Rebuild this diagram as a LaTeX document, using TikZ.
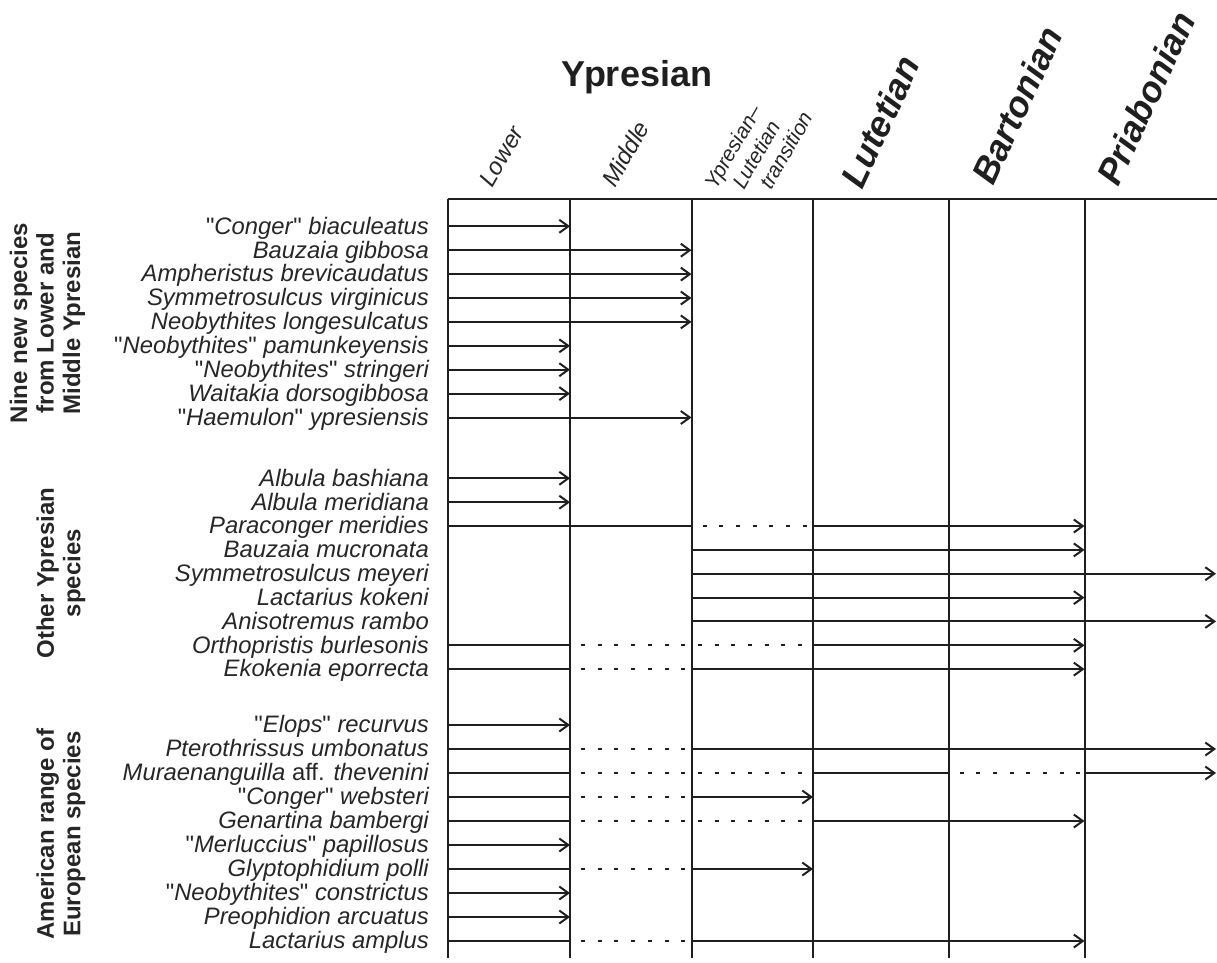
\documentclass[tikz,border=0pt]{standalone}
\usepackage{fontspec}
\setmainfont{Liberation Sans}[Ligatures=TeXOff]
\usetikzlibrary{arrows.meta}
\newcommand\uq{\textup{"}}
\begin{document}
\begin{tikzpicture}[x=1pt,y=-1pt,
  ln/.style={line width=2pt, draw=black!88},
  arr/.style={ln, -{Straight Barb[length=9pt,width=13pt]}},
  dotln/.style={ln, dash pattern=on 4pt off 12.7pt, dash phase=5.7pt},
  sp/.style={font=\fontsize{23.8}{26}\selectfont\itshape, text=black!85, anchor=base east, inner sep=0pt},
  grp/.style={font=\fontsize{24}{26.5}\selectfont\bfseries, text=black!85, rotate=90, align=center, inner sep=0pt},
  sub/.style={font=\fontsize{24}{24}\selectfont\itshape, text=black!85, rotate=60, anchor=base west, inner sep=0pt},
  subsm/.style={font=\fontsize{21}{22}\selectfont\itshape, text=black!85, rotate=60, anchor=base west, inner sep=0pt},
  stage/.style={font=\fontsize{36}{40}\selectfont\bfseries\itshape, text=black!88, rotate=65, anchor=base west, inner sep=0pt}]
\useasboundingbox (0,0) rectangle (1217,962);

% columns
\coordinate (c0) at (447.5,199);
\coordinate (c1) at (570,199);
\coordinate (c2) at (691.5,199);
\coordinate (c3) at (813,199);
\coordinate (c4) at (948.5,199);
\coordinate (c5) at (1084.5,199);
\coordinate (c6) at (1216,199);
\coordinate (cr) at (1217,199);
\foreach \i in {0,...,5} { \coordinate (e\i) at ([yshift=-759pt]c\i); \draw[ln] (c\i) -- (e\i); }
\draw[ln] (c0) -- (cr);

% header
\node[font=\fontsize{36}{40}\selectfont\bfseries, text=black!88, anchor=base, inner sep=0pt] (ypr) at (637,86) {Ypresian};
\node[sub] (lower) at (492,189) {Lower};
\node[sub] (middle) at (615,189) {Middle};
\node[subsm] (tr1) at (716,191) {Ypresian–};
\node[subsm] (tr2) at (744,191) {Lutetian};
\node[subsm] (tr3) at (771,191) {transition};
\node[stage] (lut) at (862,191) {Lutetian};
\node[stage] (bar) at (993,187) {Bartonian};
\node[stage] (pri) at (1118,188) {Priabonian};

% group labels
\node[grp] (g1) at (47.5,323) {Nine new species\\from Lower and\\Middle Ypresian};
\node[grp] (g2) at (61,573) {Other Ypresian\\species};
\node[grp] (g3) at (61,834) {American range of\\European species};

% rows
\coordinate (a1) at (0,226.3);
\coordinate (a2) at (0,250.2);
\coordinate (a3) at (0,274.1);
\coordinate (a4) at (0,298.0);
\coordinate (a5) at (0,321.9);
\coordinate (a6) at (0,345.8);
\coordinate (a7) at (0,369.7);
\coordinate (a8) at (0,393.6);
\coordinate (a9) at (0,417.5);
\coordinate (b1) at (0,478.3);
\coordinate (b2) at (0,502.2);
\coordinate (b3) at (0,526.0);
\coordinate (b4) at (0,549.9);
\coordinate (b5) at (0,573.7);
\coordinate (b6) at (0,597.6);
\coordinate (b7) at (0,621.4);
\coordinate (b8) at (0,645.3);
\coordinate (b9) at (0,669.1);
\coordinate (d1) at (0,725);
\coordinate (d2) at (0,749);
\coordinate (d3) at (0,773);
\coordinate (d4) at (0,797);
\coordinate (d5) at (0,821);
\coordinate (d6) at (0,845);
\coordinate (d7) at (0,869);
\coordinate (d8) at (0,893);
\coordinate (d9) at (0,917);
\coordinate (d10) at (0,941);

% species labels
\tikzset{lab/.style={sp, xshift=429pt, yshift=-7.8pt}}
\node[lab] (sa1) at (a1) {\uq Conger\uq{} biaculeatus};
\node[lab] (sa2) at (a2) {Bauzaia gibbosa};
\node[lab] (sa3) at (a3) {Ampheristus brevicaudatus};
\node[lab] (sa4) at (a4) {Symmetrosulcus virginicus};
\node[lab] (sa5) at (a5) {Neobythites longesulcatus};
\node[lab] (sa6) at (a6) {\uq Neobythites\uq{} pamunkeyensis};
\node[lab] (sa7) at (a7) {\uq Neobythites\uq{} stringeri};
\node[lab] (sa8) at (a8) {Waitakia dorsogibbosa};
\node[lab] (sa9) at (a9) {\uq Haemulon\uq{} ypresiensis};
\node[lab] (sb1) at (b1) {Albula bashiana};
\node[lab] (sb2) at (b2) {Albula meridiana};
\node[lab] (sb3) at (b3) {Paraconger meridies};
\node[lab] (sb4) at (b4) {Bauzaia mucronata};
\node[lab] (sb5) at (b5) {Symmetrosulcus meyeri};
\node[lab] (sb6) at (b6) {Lactarius kokeni};
\node[lab] (sb7) at (b7) {Anisotremus rambo};
\node[lab] (sb8) at (b8) {Orthopristis burlesonis};
\node[lab] (sb9) at (b9) {Ekokenia eporrecta};
\node[lab] (sd1) at (d1) {\uq Elops\uq{} recurvus};
\node[lab] (sd2) at (d2) {Pterothrissus umbonatus};
\node[lab] (sd3) at (d3) {Muraenanguilla \textup{aff.} thevenini};
\node[lab] (sd4) at (d4) {\uq Conger\uq{} websteri};
\node[lab] (sd5) at (d5) {Genartina bambergi};
\node[lab] (sd6) at (d6) {\uq Merluccius\uq{} papillosus};
\node[lab] (sd7) at (d7) {Glyptophidium polli};
\node[lab] (sd8) at (d8) {\uq Neobythites\uq{} constrictus};
\node[lab] (sd9) at (d9) {Preophidion arcuatus};
\node[lab] (sd10) at (d10) {Lactarius amplus};

% ranges group 1
\draw[arr] (c0|-a1) -- (c1|-a1);
\draw[arr] (c0|-a2) -- (c2|-a2);
\draw[arr] (c0|-a3) -- (c2|-a3);
\draw[arr] (c0|-a4) -- (c2|-a4);
\draw[arr] (c0|-a5) -- (c2|-a5);
\draw[arr] (c0|-a6) -- (c1|-a6);
\draw[arr] (c0|-a7) -- (c1|-a7);
\draw[arr] (c0|-a8) -- (c1|-a8);
\draw[arr] (c0|-a9) -- (c2|-a9);
% group 2
\draw[arr] (c0|-b1) -- (c1|-b1);
\draw[arr] (c0|-b2) -- (c1|-b2);
\draw[ln] (c0|-b3) -- (c2|-b3);
\draw[dotln] (c2|-b3) -- (c3|-b3);
\draw[arr] (c3|-b3) -- (c5|-b3);
\draw[arr] (c2|-b4) -- (c5|-b4);
\draw[arr] (c2|-b5) -- (c6|-b5);
\draw[arr] (c2|-b6) -- (c5|-b6);
\draw[arr] (c2|-b7) -- (c6|-b7);
\draw[ln] (c0|-b8) -- (c1|-b8);
\draw[dotln] (c1|-b8) -- (c3|-b8);
\draw[arr] (c3|-b8) -- (c5|-b8);
\draw[ln] (c0|-b9) -- (c1|-b9);
\draw[dotln] (c1|-b9) -- (c2|-b9);
\draw[arr] (c2|-b9) -- (c5|-b9);
% group 3
\draw[arr] (c0|-d1) -- (c1|-d1);
\draw[ln] (c0|-d2) -- (c1|-d2);
\draw[dotln] (c1|-d2) -- (c2|-d2);
\draw[arr] (c2|-d2) -- (c6|-d2);
\draw[ln] (c0|-d3) -- (c1|-d3);
\draw[dotln] (c1|-d3) -- (c3|-d3);
\draw[ln] (c3|-d3) -- (c4|-d3);
\draw[dotln] (c4|-d3) -- (c5|-d3);
\draw[arr] (c5|-d3) -- (c6|-d3);
\draw[ln] (c0|-d4) -- (c1|-d4);
\draw[dotln] (c1|-d4) -- (c2|-d4);
\draw[arr] (c2|-d4) -- (c3|-d4);
\draw[ln] (c0|-d5) -- (c1|-d5);
\draw[dotln] (c1|-d5) -- (c3|-d5);
\draw[arr] (c3|-d5) -- (c5|-d5);
\draw[arr] (c0|-d6) -- (c1|-d6);
\draw[ln] (c0|-d7) -- (c1|-d7);
\draw[dotln] (c1|-d7) -- (c2|-d7);
\draw[arr] (c2|-d7) -- (c3|-d7);
\draw[arr] (c0|-d8) -- (c1|-d8);
\draw[arr] (c0|-d9) -- (c1|-d9);
\draw[ln] (c0|-d10) -- (c1|-d10);
\draw[dotln] (c1|-d10) -- (c2|-d10);
\draw[arr] (c2|-d10) -- (c5|-d10);
\end{tikzpicture}
\end{document}
